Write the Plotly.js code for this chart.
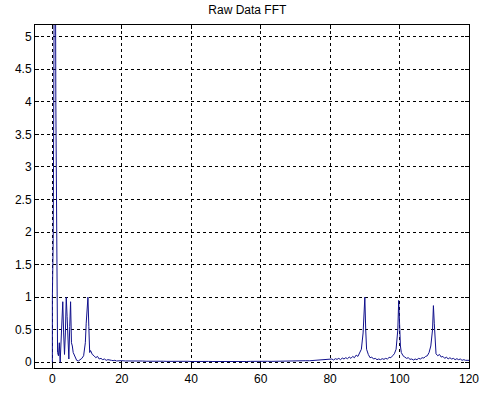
<!DOCTYPE html>
<html>
<head>
<meta charset="utf-8">
<script src="https://cdn.plot.ly/plotly-3.0.1.min.js"></script>
<style>html,body{margin:0;padding:0;background:#fff;} #chart{width:485px;height:393px;}</style>
</head>
<body>
<div id="chart"></div>
<script>
// Frequency (x) and FFT magnitude (y)
const freq = [
  0, 0, 0.25, 0.75, 1.0, 1.25, 1.5, 1.75, 2.0, 2.25, 2.5, 2.75, 3.0, 3.25, 3.5, 3.75,
  4.0, 4.25, 4.5, 4.75, 5.0, 5.25, 5.5, 5.75, 6.0, 6.5, 7.0, 7.5, 8.0, 8.5, 9.0, 9.5,
  9.75, 10.0, 10.25, 10.5, 10.75, 11.0, 11.5, 12, 12.5, 13, 13.5, 14, 14.5, 15, 15.5,
  16, 16.5, 17, 17.5, 18, 18.5, 19, 19.5, 20,
  21, 22, 23, 24, 25, 26, 27, 28, 29, 30, 31, 32, 33, 34, 35, 36, 37, 38, 39, 40,
  41, 42, 43, 44, 45, 46, 47, 48, 49, 50, 51, 52, 53, 54, 55, 56, 57, 58, 59, 60,
  61, 62, 63, 64, 65, 66, 67, 68, 69, 70, 71, 72, 73, 74, 75, 76, 77, 78, 79,
  80, 80.5, 81, 81.5, 82, 82.5, 83, 83.5, 84, 84.5, 85, 85.5, 86, 86.5, 87, 87.5,
  88, 88.5, 89, 89.5, 90, 90.25, 90.5, 91, 91.5, 92, 92.5, 93, 93.5, 94, 94.5,
  95, 95.5, 96, 96.5, 97, 97.5, 98, 98.5, 99, 99.5, 99.75, 100, 100.25, 100.5,
  101, 101.5, 102, 102.5, 103, 103.5, 104, 104.5, 105, 105.5, 106, 106.5, 107, 107.5,
  108, 108.5, 109, 109.5, 109.75, 110, 110.25, 110.5, 111, 111.5, 112, 112.5, 113, 113.5,
  114, 114.5, 115, 115.5, 116, 116.5, 117, 117.5, 118, 118.5, 119, 119.5, 120
];
const magnitude = [
  0, 1.0, 1.9, 9.0, 4.0, 1.5, 0.15, 0.1, 0.3, 0.0, 0.4, 0.82, 0.93, 0.45, 0.12, 0.45,
  1.0, 0.7, 0.25, 0.05, 0.55, 0.93, 0.3, 0.25, 0.15, 0.1, 0.03, 0.02, 0.04, 0.06, 0.1, 0.3,
  0.6, 0.8, 1.0, 0.55, 0.15, 0.18, 0.12, 0.1, 0.07, 0.09, 0.05, 0.06, 0.04, 0.05, 0.03,
  0.04, 0.03, 0.03, 0.025, 0.03, 0.02, 0.025, 0.02, 0.025,
  0.02, 0.022, 0.018, 0.02, 0.017, 0.019, 0.016, 0.018, 0.015, 0.017, 0.015, 0.016, 0.014, 0.016, 0.013, 0.015, 0.014, 0.013, 0.015, 0.012,
  0.014, 0.012, 0.013, 0.011, 0.013, 0.012, 0.011, 0.013, 0.012, 0.011, 0.012, 0.013, 0.011, 0.012, 0.013, 0.012, 0.014, 0.012, 0.013, 0.014,
  0.013, 0.015, 0.014, 0.016, 0.015, 0.017, 0.016, 0.018, 0.02, 0.019, 0.022, 0.021, 0.024, 0.023, 0.027, 0.026, 0.03, 0.029, 0.034,
  0.04, 0.05, 0.035, 0.055, 0.045, 0.06, 0.04, 0.065, 0.05, 0.07, 0.055, 0.08, 0.06, 0.09, 0.07, 0.11,
  0.09, 0.15, 0.2, 0.45, 1.0, 0.5, 0.2, 0.12, 0.07, 0.08, 0.05, 0.06, 0.04, 0.05, 0.04,
  0.055, 0.045, 0.06, 0.05, 0.075, 0.07, 0.1, 0.13, 0.2, 0.5, 0.95, 0.55, 0.25, 0.15,
  0.1, 0.08, 0.06, 0.07, 0.045, 0.05, 0.035, 0.05, 0.04, 0.06, 0.05, 0.07, 0.065, 0.09,
  0.1, 0.15, 0.25, 0.5, 0.87, 0.6, 0.2, 0.13, 0.1, 0.12, 0.08, 0.09, 0.06, 0.08,
  0.05, 0.07, 0.05, 0.06, 0.04, 0.055, 0.04, 0.05, 0.03, 0.04, 0.03, 0.035, 0.03
];
const xTicks = [0, 20, 40, 60, 80, 100, 120];
const yTicks = [0, 0.5, 1, 1.5, 2, 2.5, 3, 3.5, 4, 4.5, 5];

const trace = {
  x: freq, y: magnitude, type: 'scatter', mode: 'lines',
  line: {color: '#10108c', width: 1}, hoverinfo: 'skip'
};

const axisCommon = {
  showline: true, linecolor: '#000', linewidth: 1, mirror: 'ticks',
  ticks: 'inside', ticklen: 4, tickcolor: '#000',
  showgrid: true, gridcolor: '#000', gridwidth: 1, griddash: '3px,3px',
  zeroline: false, tickfont: {family: 'Liberation Sans, Arial, sans-serif', size: 12, color: '#000'}
};

const layout = {
  width: 485, height: 393,
  margin: {l: 35, r: 16, t: 25, b: 25},
  paper_bgcolor: '#fff', plot_bgcolor: '#fff',
  showlegend: false,
  title: {text: 'Raw Data FFT', x: 0.51, xanchor: 'center', y: 0.975, yanchor: 'middle',
          font: {family: 'Liberation Sans, Arial, sans-serif', size: 12, color: '#000'}},
  xaxis: Object.assign({}, axisCommon, {range: [-5, 120], tickvals: xTicks, ticktext: xTicks.map(String)}),
  yaxis: Object.assign({}, axisCommon, {range: [-0.088, 5.18], tickvals: yTicks, ticktext: yTicks.map(String)})
};

Plotly.newPlot('chart', [trace], layout, {staticPlot: true, displayModeBar: false});
</script>
</body>
</html>
